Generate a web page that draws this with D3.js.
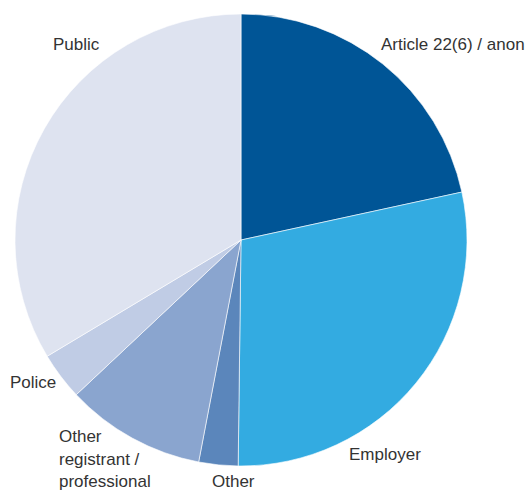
<!DOCTYPE html>
<html>
<head>
<meta charset="utf-8">
<script src="https://cdn.jsdelivr.net/npm/d3@7"></script>
<style>
  html, body { margin: 0; padding: 0; background: #fff; }
  svg { display: block; }
  text { font-family: "Liberation Sans", Arial, Helvetica, sans-serif; font-size: 17px; fill: #333; }
</style>
</head>
<body>
<svg id="chart" width="532" height="493"></svg>
<script>
// Sources of referrals, share of total (%), clockwise from 12 o'clock
const categories = ["Article 22(6) / anon", "Employer", "Other", "Other registrant / professional", "Police", "Public"];
const shares = [21.6, 28.6, 2.8, 10.0, 3.4, 33.6];
const colours = ["#005596", "#33abe1", "#5b86bb", "#8aa5cf", "#c0cce5", "#dee3f0"];

// Label lines and anchor points for each slice's caption
const labelLines = [["Article 22(6) / anon"], ["Employer"], ["Other"], ["Other", "registrant /", "professional"], ["Police"], ["Public"]];
const labelAnchors = [[381, 50], [349, 460], [212, 487], [59, 442], [10, 388], [53, 50]];

const svg = d3.select("#chart");
const cx = 241, cy = 240, radius = 226;

const pie = d3.pie().sort(null).value(d => d.value);
const arc = d3.arc().innerRadius(0).outerRadius(radius);
const colour = d3.scaleOrdinal().domain(categories).range(colours);

const data = categories.map((c, i) => ({ name: c, value: shares[i] }));

const g = svg.append("g").attr("transform", `translate(${cx},${cy})`);
g.selectAll("path")
  .data(pie(data))
  .join("path")
  .attr("d", arc)
  .attr("fill", d => colour(d.data.name))
  .attr("stroke", "#ffffff")
  .attr("stroke-width", 0.6)
  .attr("stroke-linejoin", "round");

const labels = svg.append("g");
categories.forEach((c, i) => {
  const t = labels.append("text")
    .attr("x", labelAnchors[i][0])
    .attr("y", labelAnchors[i][1]);
  labelLines[i].forEach((line, j) => {
    t.append("tspan")
      .attr("x", labelAnchors[i][0])
      .attr("dy", j === 0 ? 0 : 22.5)
      .text(line);
  });
});
</script>
</body>
</html>
